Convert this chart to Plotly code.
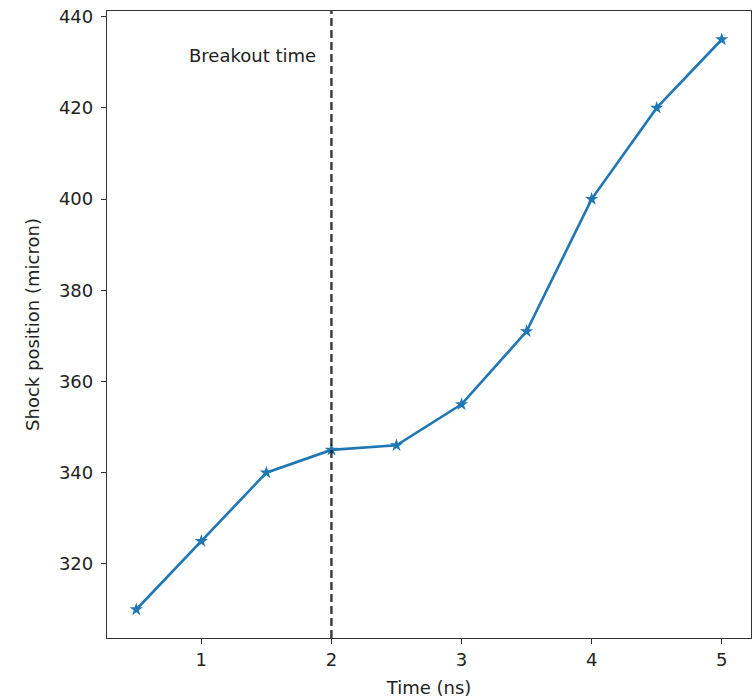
import plotly.graph_objects as go

time_ns = [0.5, 1.0, 1.5, 2.0, 2.5, 3.0, 3.5, 4.0, 4.5, 5.0]
shock_pos = [310, 325, 340, 345, 346, 355, 371, 400, 420, 435]
x_ticks = [1, 2, 3, 4, 5]
y_ticks = [320, 340, 360, 380, 400, 420, 440]
breakout_time = 2.0
label_x = 1.9
label_y = 431.5

FONT = "DejaVu Sans"
FS = 18

fig = go.Figure()
fig.add_trace(go.Scatter(
    x=time_ns, y=shock_pos, mode="lines+markers",
    line=dict(color="#1f77b4", width=2.6),
    marker=dict(symbol="star", size=10, color="#1f77b4"),
    showlegend=False,
))
fig.add_shape(type="line", xref="x", yref="paper", x0=breakout_time, x1=breakout_time,
              y0=0, y1=1, line=dict(color="rgba(0,0,0,0.75)", width=2.5, dash="8px,4px"))
fig.add_annotation(x=label_x, y=label_y, text="Breakout time", showarrow=False,
                   xanchor="right", yanchor="middle",
                   font=dict(family=FONT, size=FS, color="#222"))

axis_common = dict(showline=True, linecolor="#333", linewidth=1.3, mirror=True,
                   ticks="outside", ticklen=5, tickwidth=1.2, tickcolor="#333",
                   showgrid=False, zeroline=False,
                   tickfont=dict(family=FONT, size=FS, color="#222"))
fig.update_xaxes(range=[0.275, 5.225], tickvals=x_ticks,
                 title=dict(text="Time (ns)", font=dict(family=FONT, size=FS, color="#222"), standoff=12),
                 **axis_common)
fig.update_yaxes(range=[303.75, 441.25], tickvals=y_ticks, ticklabelstandoff=4,
                 title=dict(text="Shock position (micron)", font=dict(family=FONT, size=FS, color="#222"), standoff=14),
                 **axis_common)
fig.update_layout(width=756, height=699, margin=dict(l=107, r=5, t=11, b=61),
                  plot_bgcolor="white", paper_bgcolor="white",
                  font=dict(family=FONT, size=FS, color="#222"))
fig.write_html("out.html")
